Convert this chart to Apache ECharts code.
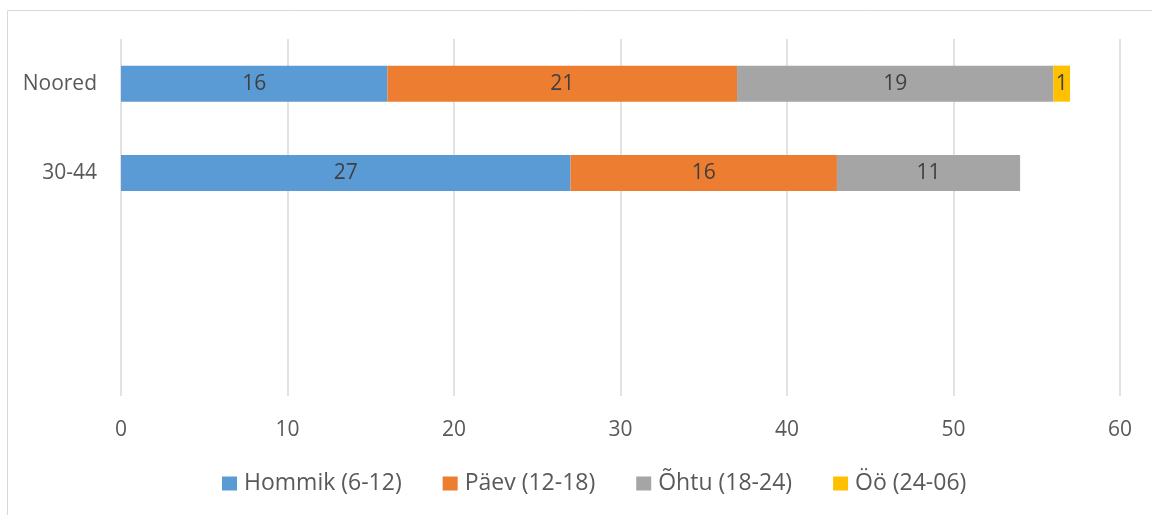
<!doctype html>
<html>
<head>
<meta charset="UTF-8">
<title>Aeg</title>
<script src="https://cdn.jsdelivr.net/npm/echarts@6/dist/echarts.min.js"></script>
<style>
  html, body { margin: 0; padding: 0; background: #fff; }
  #main { width: 1152px; height: 515px; }
</style>
</head>
<body>
<div id="main"></div>
<script>
// kategooriad (kaks viimast on tühjad)
var categories = ['Noored', '30-44', '', ''];
var seriesNames = ['Hommik (6-12)', 'Päev (12-18)', 'Õhtu (18-24)', 'Öö (24-06)'];
var hommik = [16, 27, null, null];
var paev = [21, 16, null, null];
var ohtu = [19, 11, null, null];
var oo = [1, null, null, null];
var colors = ['#5B9BD5', '#ED7D31', '#A5A5A5', '#FFC000'];
var xTicks = { min: 0, max: 60, interval: 10 };

var font = '"Open Sans", "Noto Sans", sans-serif';
var allValues = [hommik, paev, ohtu, oo];

var series = [];
for (var i = 0; i < seriesNames.length; i++) {
    series.push({
        name: seriesNames[i],
        type: 'bar',
        stack: 'total',
        barWidth: 36,
        data: allValues[i],
        itemStyle: { color: colors[i] },
        label: {
            show: true,
            position: 'inside',
            color: '#404040',
            fontFamily: font,
            fontSize: 21
        }
    });
}

var myChart = echarts.init(document.getElementById('main'));
var option = {
    animation: false,
    color: colors,
    graphic: [{
        type: 'rect',
        shape: { x: 7.5, y: 10.5, width: 1160, height: 520 },
        style: { fill: 'none', stroke: '#d9d9d9', lineWidth: 1 },
        silent: true
    }],
    grid: { left: 121, right: 32, top: 39, bottom: 119 },
    legend: {
        bottom: 15,
        left: 217,
        itemWidth: 15,
        itemHeight: 14,
        itemGap: 41,
        icon: 'rect',
        textStyle: { color: '#595959', fontFamily: font, fontSize: 23, padding: [0, 0, 0, 2] },
        data: seriesNames
    },
    xAxis: {
        type: 'value',
        min: xTicks.min,
        max: xTicks.max,
        interval: xTicks.interval,
        axisLine: { show: false },
        axisTick: { show: false },
        splitLine: { lineStyle: { color: '#d9d9d9', width: 1.5 } },
        axisLabel: { color: '#595959', fontFamily: font, fontSize: 21, margin: 24 }
    },
    yAxis: {
        type: 'category',
        inverse: true,
        data: categories,
        axisLine: { show: false },
        axisTick: { show: false },
        axisLabel: { color: '#595959', fontFamily: font, fontSize: 21, margin: 24 }
    },
    series: series
};
myChart.setOption(option);
</script>
</body>
</html>
